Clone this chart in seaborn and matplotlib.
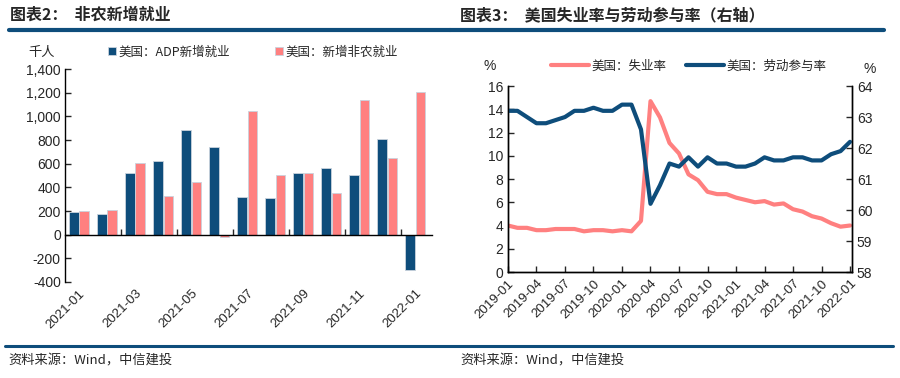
import pandas as pd
import matplotlib.pyplot as plt
import seaborn as sns
from matplotlib.lines import Line2D

# ---- data: left chart (thousand persons) ----
bar_months = ['2021-01', '2021-02', '2021-03', '2021-04', '2021-05', '2021-06', '2021-07',
              '2021-08', '2021-09', '2021-10', '2021-11', '2021-12', '2022-01']
adp_jobs = [191, 177, 518, 623, 885, 741, 318, 307, 524, 563, 504, 808, -301]
nfp_jobs = [200, 206, 608, 327, 442, -20, 1045, 507, 524, 355, 1138, 651, 1203]
bar_tick_labels = ['2021-01', '2021-03', '2021-05', '2021-07', '2021-09', '2021-11', '2022-01']

# ---- data: right chart ----
line_months = pd.date_range('2019-01-01', '2022-01-01', freq='MS').strftime('%Y-%m').tolist()
unemployment = [4.0, 3.8, 3.8, 3.6, 3.6, 3.7, 3.7, 3.7, 3.5, 3.6, 3.6, 3.5,
                3.6, 3.5, 4.4, 14.7, 13.3, 11.1, 10.2, 8.4, 7.9, 6.9, 6.7, 6.7,
                6.4, 6.2, 6.0, 6.1, 5.8, 5.9, 5.4, 5.2, 4.8, 4.6, 4.2, 3.9, 4.0]
participation = [63.2, 63.2, 63.0, 62.8, 62.8, 62.9, 63.0, 63.2, 63.2, 63.3, 63.2, 63.2,
                 63.4, 63.4, 62.6, 60.2, 60.8, 61.5, 61.4, 61.7, 61.4, 61.7, 61.5, 61.5,
                 61.4, 61.4, 61.5, 61.7, 61.6, 61.6, 61.7, 61.7, 61.6, 61.6, 61.8, 61.9, 62.2]
line_tick_labels = ['2019-01', '2019-04', '2019-07', '2019-10', '2020-01', '2020-04', '2020-07',
                    '2020-10', '2021-01', '2021-04', '2021-07', '2021-10', '2022-01']

BLUE = '#0E4D7B'
PINK = '#FF8080'
CJK = ['Noto Sans CJK SC', 'DejaVu Sans']

sns.set_theme(style='ticks')
plt.rcParams['font.family'] = ['Liberation Sans', 'Noto Sans CJK SC', 'DejaVu Sans']
plt.rcParams['axes.linewidth'] = 1.0
plt.rcParams['axes.edgecolor'] = 'black'

fig = plt.figure(figsize=(9, 3.78), dpi=100)

# ---- titles and decorative rules ----
fig.text(10 / 900, 1 - 15 / 378, '图表2：  非农新增就业', family=CJK, fontsize=11.5,
         fontweight='bold', va='center', ha='left')
fig.text(460 / 900, 1 - 15 / 378, '图表3：  美国失业率与劳动参与率（右轴）', family=CJK, fontsize=11.5,
         fontweight='bold', va='center', ha='left')
fig.add_artist(Line2D([9 / 900, 450 / 900], [1 - 30 / 378] * 2, color=BLUE, lw=3,
                      transform=fig.transFigure))
fig.add_artist(Line2D([450 / 900, 884 / 900], [1 - 30 / 378] * 2, color=BLUE, lw=3,
                      transform=fig.transFigure))
fig.add_artist(Line2D([5 / 900, 893 / 900], [1 - 346 / 378] * 2, color=BLUE, lw=2.2,
                      transform=fig.transFigure))
fig.text(8 / 900, 1 - 361 / 378, '资料来源：Wind，中信建投', family=CJK, fontsize=9.5,
         style='italic', va='center', ha='left')
fig.text(460 / 900, 1 - 361 / 378, '资料来源：Wind，中信建投', family=CJK, fontsize=9.5,
         style='italic', va='center', ha='left')

# ---- left chart: grouped bars ----
ax1 = fig.add_axes([0.0722, 0.254, 0.408, 0.563])
bar_df = pd.DataFrame({
    'month': bar_months * 2,
    'value': adp_jobs + nfp_jobs,
    'series': ['美国：ADP新增就业'] * len(bar_months) + ['美国：新增非农就业'] * len(bar_months),
})
sns.barplot(data=bar_df, x='month', y='value', hue='series', palette=[BLUE, PINK],
            saturation=1, width=0.74, gap=0.08, edgecolor='#c9d3dd', linewidth=0.6,
            ax=ax1, legend=True)
ax1.set_ylim(-400, 1400)
ax1.set_yticks(range(-400, 1401, 200))
ax1.yaxis.set_major_formatter(plt.FuncFormatter(lambda v, p: f'{int(v):,}'))
ax1.set_xlim(-0.5, 12.6)
ax1.spines['top'].set_visible(False)
ax1.spines['right'].set_visible(False)
ax1.spines['bottom'].set_position(('data', 0))
ax1.set_xticks([i + 0.5 for i in range(1, 12, 2)])
ax1.set_xticklabels([])
ax1.tick_params(axis='x', direction='in', length=4, width=1)
ax1.tick_params(axis='y', direction='in', length=4, width=1, labelsize=10, pad=3)
sec = ax1.secondary_xaxis('bottom')
sec.set_xticks(range(0, 13, 2), labels=bar_tick_labels)
sec.tick_params(length=0, labelsize=9.5, pad=4)
plt.setp(sec.get_xticklabels(), rotation=45, ha='right', rotation_mode='anchor')
sec.spines['bottom'].set_visible(False)
ax1.set_xlabel('')
ax1.set_ylabel('')
h, l = ax1.get_legend_handles_labels()
ax1.legend_.remove()
fig.legend(h, l, loc='center left', bbox_to_anchor=(0.108, 1 - 52 / 378), ncol=2, frameon=False,
           handlelength=0.6, handleheight=0.6, handletextpad=0.2, columnspacing=3.6,
           prop={'family': CJK, 'size': 9})
fig.text(42 / 900, 1 - 52 / 378, '千人', family=CJK, fontsize=9.5, ha='center', va='center')

# ---- right chart: two lines, twin axis ----
ax2 = fig.add_axes([0.5644, 0.2804, 0.3822, 0.492])
ax3 = ax2.twinx()
line_df = pd.DataFrame({'idx': range(len(line_months)), 'month': line_months,
                        'unemp': unemployment, 'lfpr': participation})
sns.lineplot(data=line_df, x='idx', y='unemp', color=PINK, lw=3, ax=ax2,
             label='美国：失业率', legend=False)
sns.lineplot(data=line_df, x='idx', y='lfpr', color=BLUE, lw=3, ax=ax3,
             label='美国：劳动参与率', legend=False)
ax2.set_ylim(0, 16)
ax2.set_yticks(range(0, 17, 2))
ax3.set_ylim(58, 64)
ax3.set_yticks(range(58, 65))
ax2.set_xlim(0, 36.2)
ax2.set_xticks(range(0, 37, 3), labels=line_tick_labels)
plt.setp(ax2.get_xticklabels(), rotation=45, ha='right', rotation_mode='anchor')
for a in (ax2, ax3):
    a.spines['top'].set_visible(False)
    a.set_xlabel('')
    a.set_ylabel('')
ax2.tick_params(axis='both', direction='in', length=4, width=1, labelsize=10)
ax2.tick_params(axis='x', labelsize=9.5, pad=4)
ax3.tick_params(axis='y', direction='in', length=4, width=1, labelsize=10)
fig.text(490 / 900, 1 - 66 / 378, '%', fontsize=10, ha='center', va='center')
fig.text(870 / 900, 1 - 69 / 378, '%', fontsize=10, ha='center', va='center')
handles = [Line2D([], [], color=PINK, lw=3), Line2D([], [], color=BLUE, lw=3)]
fig.legend(handles, ['美国：失业率', '美国：劳动参与率'], loc='center left',
           bbox_to_anchor=(540 / 900, 1 - 66 / 378), ncol=2, frameon=False,
           handlelength=3.0, handletextpad=0.2, columnspacing=1.6,
           prop={'family': CJK, 'size': 9})

fig.savefig('out.png', dpi=100)
